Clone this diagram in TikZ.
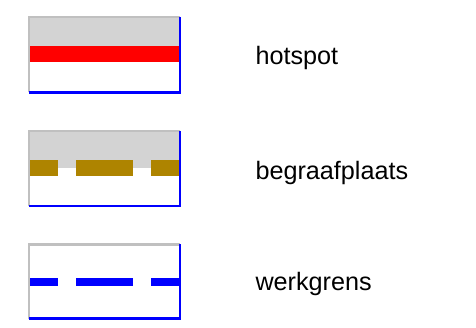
\documentclass[tikz,border=0pt]{standalone}
\usepackage{fontspec}
\setmainfont{Liberation Sans}
\usetikzlibrary{positioning}
\definecolor{randgrijs}{RGB}{192,192,192}
\definecolor{vlakgrijs}{RGB}{211,211,211}
\definecolor{bruin}{RGB}{174,132,0}

\begin{document}
\begin{tikzpicture}[x=1pt,y=-1pt,
    linksboven/.style={draw=randgrijs,line width=2.4pt},
    rechtsonder/.style={draw=blue,line width=2.4pt},
    streep/.style={line width=#1,dash pattern=on 57pt off 18pt,dash phase=27pt},
    label/.style={anchor=base west,inner sep=0pt,font=\fontsize{25.2}{30}\selectfont}]
\useasboundingbox (0,0) rectangle (476,328);

% hotspot
\fill[vlakgrijs] (29,17) rectangle (179,54);
\fill[red] (29,46.5) rectangle (179,62.5);
\draw[linksboven] (29,92.5) -- (29,17) -- (180,17);
\draw[rechtsonder] (180,17) -- (180,92.5) -- (29,92.5);
\node[label] (hotspot) at (255.3,64.3) {hotspot};

% begraafplaats
\fill[vlakgrijs] (29,131) rectangle (179,168);
\draw[bruin,streep=16pt] (28,167.7) -- (179,167.7);
\draw[linksboven] (29,206) -- (29,131) -- (180,131);
\draw[rechtsonder] (180,131) -- (180,206) -- (29,206);
\node[label] (begraafplaats) at (255.3,179.3) {begraafplaats};

% werkgrens
\draw[blue,streep=8pt] (28,281.7) -- (179,281.7);
\draw[linksboven] (29,318.5) -- (29,244.5) -- (180,244.5);
\draw[rechtsonder] (180,244.5) -- (180,318.5) -- (29,318.5);
\node[label] (werkgrens) at (255.3,290.3) {werkgrens};
\end{tikzpicture}
\end{document}
